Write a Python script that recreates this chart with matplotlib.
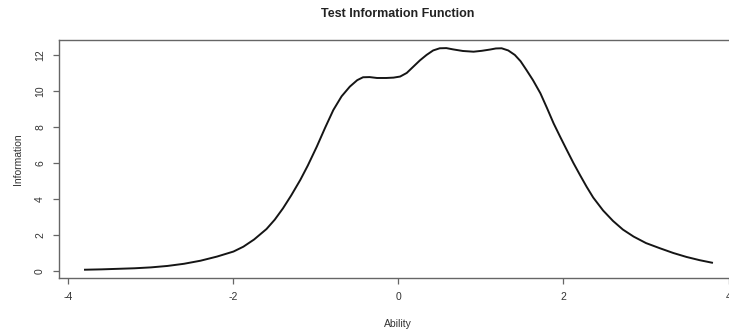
import matplotlib.pyplot as plt
import numpy as np

# -------------------------
# Data: test information curve
# -------------------------
ability = [-3.8, -3.6, -3.4, -3.2, -3.0, -2.8, -2.6, -2.4, -2.2, -2.0,
           -1.88, -1.75, -1.6, -1.5, -1.4, -1.3, -1.19, -1.1, -0.99, -0.89,
           -0.79, -0.69, -0.59, -0.5, -0.43, -0.35, -0.26, -0.15, -0.06, 0.02,
           0.1, 0.18, 0.26, 0.34, 0.42, 0.5, 0.58, 0.66, 0.78, 0.91,
           1.01, 1.11, 1.18, 1.25, 1.33, 1.41, 1.48, 1.55, 1.63, 1.72,
           1.8, 1.88, 1.96, 2.04, 2.12, 2.2, 2.28, 2.36, 2.48, 2.6,
           2.72, 2.85, 3.0, 3.17, 3.33, 3.49, 3.65, 3.8]
information = [0.07, 0.09, 0.12, 0.15, 0.20, 0.28, 0.40, 0.57, 0.80, 1.08,
               1.35, 1.75, 2.33, 2.85, 3.48, 4.20, 5.06, 5.85, 6.91, 7.95,
               8.94, 9.70, 10.24, 10.60, 10.76, 10.77, 10.72, 10.72, 10.74, 10.80,
               11.00, 11.35, 11.70, 12.00, 12.25, 12.37, 12.38, 12.31, 12.22, 12.18,
               12.23, 12.30, 12.36, 12.37, 12.25, 12.00, 11.65, 11.17, 10.60, 9.87,
               9.05, 8.20, 7.45, 6.72, 6.00, 5.33, 4.68, 4.08, 3.36, 2.78,
               2.30, 1.91, 1.55, 1.26, 1.00, 0.78, 0.60, 0.46]

xticks = [-4, -2, 0, 2, 4]
yticks = [0, 2, 4, 6, 8, 10, 12]

plt.rcParams['font.family'] = ['Liberation Sans', 'DejaVu Sans']
plt.rcParams['axes.unicode_minus'] = False

fig = plt.figure(figsize=(7.29, 3.31), dpi=100)
ax = fig.add_axes([59 / 729, 53 / 331, 678 / 729, 238 / 331])

ax.plot(ability, information, color='#151515', linewidth=1.4)

ax.set_xlim(-4.115, 4.103)
ax.set_ylim(-0.39, 12.83)
ax.set_xticks(xticks)
ax.set_yticks(yticks)
ax.set_yticklabels([str(t) for t in yticks], rotation=90, va='center')

axis_col = '#666666'
for s in ax.spines.values():
    s.set_color(axis_col)
    s.set_linewidth(1.0)
ax.tick_params(direction='out', length=4, width=0.9, color=axis_col,
               labelsize=7.5, labelcolor='#333333', pad=6)

ax.set_xlabel('Ability', fontsize=7.5, color='#333333', labelpad=12)
ax.set_ylabel('Information', fontsize=7.5, color='#333333', labelpad=9)
fig.text(398 / 729, 1 - 14 / 331, 'Test Information Function',
         ha='center', va='center', fontsize=9, fontweight='bold', color='#222222')

fig.savefig('out.png', dpi=100)
